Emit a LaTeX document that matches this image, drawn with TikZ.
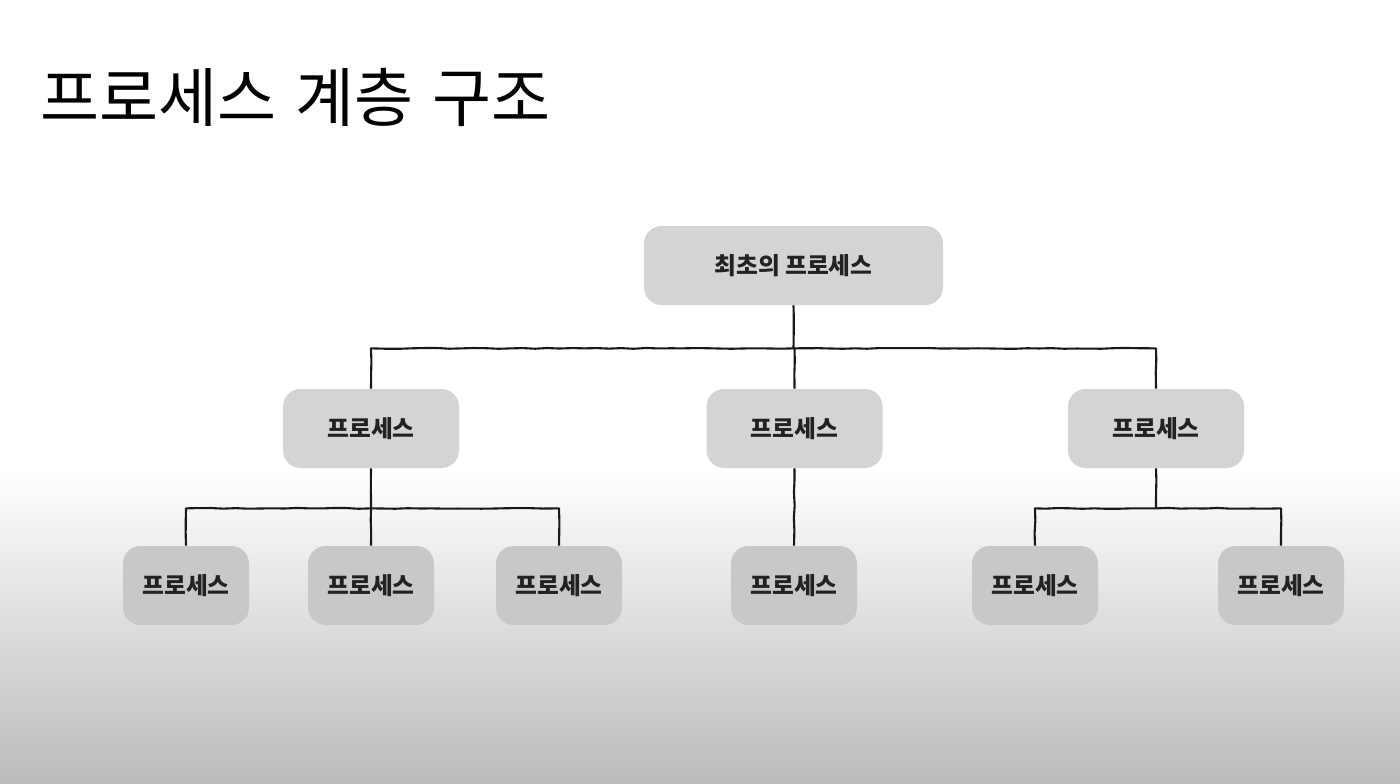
\documentclass[tikz,border=0pt]{standalone}
\usepackage{fontspec}
\newfontfamily\krfont{Noto Sans CJK KR}
\usetikzlibrary{positioning, decorations.pathmorphing}

\definecolor{boxgray}{HTML}{D4D4D4}
\definecolor{boxdark}{HTML}{C8C8C8}
\definecolor{bgbottom}{HTML}{BBBBBB}
\definecolor{inktext}{HTML}{222222}

\begin{document}
\begin{tikzpicture}[
  proc/.style={rectangle, rounded corners=10pt, draw=none, fill=boxgray,
               minimum width=3.52cm, minimum height=1.58cm,
               font=\krfont\bfseries\fontsize{13.5}{16}\selectfont, text=inktext},
  root/.style={proc, minimum width=5.98cm},
  leaf/.style={proc, fill=boxdark, minimum width=2.52cm},
  link/.style={line width=1.2pt, black!90, line join=round,
               decorate, decoration={random steps, segment length=7pt, amplitude=0.25pt}}
]

% background: white top, grey fade at the bottom
\fill[white] (0,0) rectangle (28,-9.4);
\shade[top color=white, bottom color=bgbottom] (0,-9.4) rectangle (28,-15.66);
\useasboundingbox (0,0) rectangle (28,-15.66);

\node[anchor=west, inner sep=0pt, font=\krfont\fontsize{36.5}{40}\selectfont] (title)
  at (0.8,-1.94) {프로세스\hspace{0.3em}계층\hspace{0.3em}구조};

% tree
\node[root] (first) at (15.87,-5.31) {최초의 프로세스};

\node[proc] (pa) at (7.42,-8.57)  {프로세스};
\node[proc] (pb) at (15.89,-8.57) {프로세스};
\node[proc] (pc) at (23.12,-8.57) {프로세스};

\node[leaf] (pa1) at (3.72,-11.71)  {프로세스};
\node[leaf] (pa2) at (7.42,-11.71)  {프로세스};
\node[leaf] (pa3) at (11.18,-11.71) {프로세스};
\node[leaf] (pb1) at (15.88,-11.71) {프로세스};
\node[leaf] (pc1) at (20.70,-11.71) {프로세스};
\node[leaf] (pc2) at (25.62,-11.71) {프로세스};

% connectors
\draw[link] (first.south) -- ++(0,-0.86) coordinate (j0);
\foreach \n in {pa,pb,pc}
  \draw[link] (j0) -| (\n.north);

\draw[link] (pa.south) -- ++(0,-0.8) coordinate (ja);
\foreach \n in {pa1,pa2,pa3}
  \draw[link] (ja) -| (\n.north);

\draw[link] (pb.south) -- (pb1.north);

\draw[link] (pc.south) -- ++(0,-0.8) coordinate (jc);
\foreach \n in {pc1,pc2}
  \draw[link] (jc) -| (\n.north);

\end{tikzpicture}
\end{document}
